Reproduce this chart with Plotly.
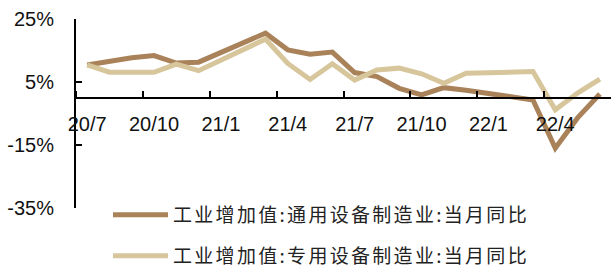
import plotly.graph_objects as go

months = ["20/7", "20/8", "20/9", "20/10", "20/11", "20/12",
          "21/1", "21/2", "21/3", "21/4", "21/5", "21/6",
          "21/7", "21/8", "21/9", "21/10", "21/11", "21/12",
          "22/1", "22/2", "22/3", "22/4", "22/5", "22/6"]

general_equip = [10.4, 11.6, 12.7, 13.4, 11.0, 11.3,
                 None, None, 20.5, 15.2, 13.8, 14.5,
                 8.0, 6.7, 3.0, 0.9, 3.2, 2.4,
                 None, None, -0.7, -16.0, -6.4, 1.2]

special_equip = [10.4, 8.1, 8.1, 8.1, 10.7, 8.6,
                 None, None, 18.6, 10.9, 5.8, 10.8,
                 5.6, 8.8, 9.4, 7.6, 4.6, 7.8,
                 None, None, 8.3, -3.8, 1.5, 5.9]

x_tick_labels = ["20/7", "20/10", "21/1", "21/4", "21/7", "21/10", "22/1", "22/4"]
y_tick_vals = [25, 5, -15, -35]
y_tick_text = ["25%", "5%", "-15%", "-35%"]

name1 = "工业增加值:通用设备制造业:当月同比"
name2 = "工业增加值:专用设备制造业:当月同比"

c1 = "#A9825A"
c2 = "#D7C69C"

W, H = 611, 271
ml, mr, mt = 76, 0, 19
plot_h = 189.3
mb = H - mt - plot_h

xi = list(range(len(months)))
x_tick_pos = [months.index(m) for m in x_tick_labels]
x_boundaries = [p - 0.5 for p in x_tick_pos]


def spaced(s):
    return '<span style="letter-spacing:2.3px">' + s + '</span>'


fig = go.Figure()
fig.add_trace(go.Scatter(x=xi, y=general_equip, mode="lines", name=spaced(name1),
                         connectgaps=True, line=dict(color=c1, width=5),
                         legend="legend", hoverinfo="skip"))
fig.add_trace(go.Scatter(x=xi, y=special_equip, mode="lines", name=spaced(name2),
                         connectgaps=True, line=dict(color=c2, width=5),
                         legend="legend2", hoverinfo="skip"))

leg_font = dict(family="Noto Sans CJK SC", size=19, color="#222222")
common_leg = dict(xref="container", yref="container", xanchor="left", yanchor="middle",
                  font=leg_font, itemwidth=55, bgcolor="rgba(0,0,0,0)", borderwidth=0)

fig.update_layout(
    width=W, height=H,
    margin=dict(l=ml, r=mr, t=mt, b=mb, pad=0, autoexpand=False),
    paper_bgcolor="white", plot_bgcolor="rgba(0,0,0,0)",
    showlegend=True,
    hovermode=False,
    legend=dict(x=108 / W, y=1 - 215 / H, **common_leg),
    legend2=dict(x=108 / W, y=1 - 256 / H, **common_leg),
    font=dict(family="Liberation Sans, Arial", size=20, color="#111111"),
)

fig.update_xaxes(
    range=[-0.5, 23.5],
    tickmode="array", tickvals=x_tick_pos, ticktext=x_tick_labels,
    ticks="",
    minor=dict(tickmode="array", tickvals=x_boundaries, ticks="inside",
               ticklen=6, tickwidth=2, tickcolor="black", showgrid=False),
    showline=True, linecolor="black", linewidth=2,
    showgrid=False, zeroline=False,
    anchor="free", position=35 / 60,
    tickangle=0,
    ticklabelstandoff=8,
    tickfont=dict(family="Liberation Sans, Arial", size=20, color="#111111"),
    layer="above traces",
)

fig.update_yaxes(
    range=[-35, 25], tickmode="array", tickvals=y_tick_vals, ticktext=y_tick_text,
    ticks="inside", ticklen=6, tickwidth=2, tickcolor="black",
    showline=True, linecolor="black", linewidth=2,
    showgrid=False, zeroline=False,
    ticklabelstandoff=16,
    tickfont=dict(family="Liberation Sans, Arial", size=20, color="#111111"),
    layer="above traces",
)

fig.write_html("out.html", config={"displayModeBar": False},
               post_script="document.body.style.margin='0';")
